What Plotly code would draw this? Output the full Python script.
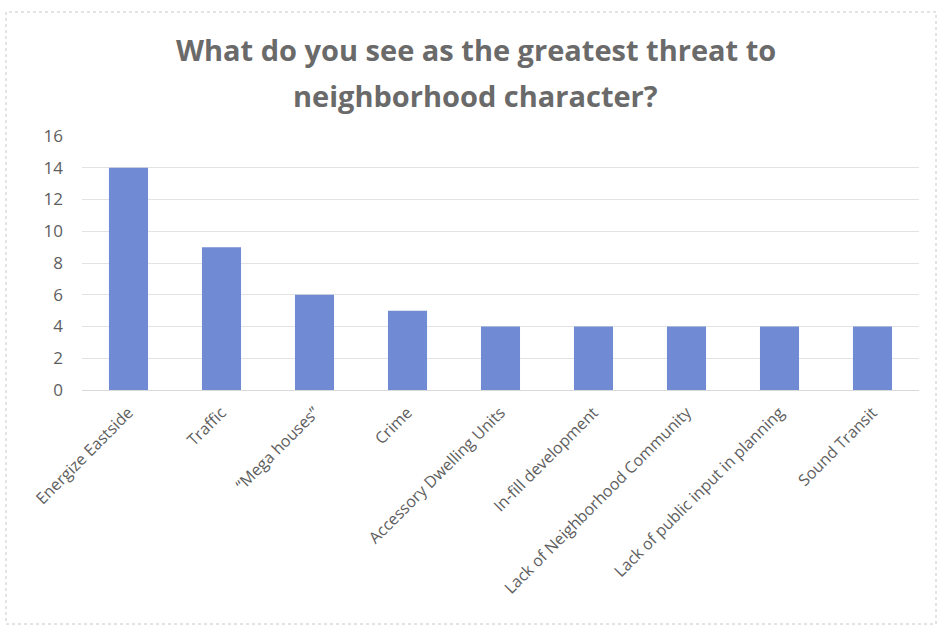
import plotly.graph_objects as go

# Survey responses: greatest threat to neighborhood character
categories = [
    "Energize Eastside",
    "Traffic",
    "\u201cMega houses\u201d",
    "Crime",
    "Accessory Dwelling Units",
    "In-fill development",
    "Lack of Neighborhood Community",
    "Lack of public input in planning",
    "Sound Transit",
]
counts = [14, 9, 6, 5, 4, 4, 4, 4, 4]
y_ticks = [0, 2, 4, 6, 8, 10, 12, 14, 16]

title_lines = ["What do you see as the greatest threat to", "neighborhood character?"]

W, H = 943, 629
L, R, T, B = 82, 24, 136, 239

BAR = "#708bd4"
TEXT = "#5e5e5e"
FONT = "Open Sans, Liberation Sans, sans-serif"

fig = go.Figure(
    go.Bar(
        x=categories,
        y=counts,
        marker=dict(color=BAR, line=dict(width=0)),
        width=0.42,
        hoverinfo="x+y",
    )
)

pw, ph = W - L - R, H - T - B


def px_to_paper(x, y):
    return (x - L) / pw, (H - B - y) / ph


x0, y0 = px_to_paper(6, 12)
x1, y1 = px_to_paper(936, 624)
fig.add_shape(
    type="rect", xref="paper", yref="paper",
    x0=x0, x1=x1, y0=y1, y1=y0,
    line=dict(color="#c8c8c8", width=1, dash="dot"),
    layer="below",
)

for text, ypx in zip(title_lines, [50, 95]):
    fx, fy = px_to_paper(W / 2 + 4, ypx)
    fig.add_annotation(
        text=f"<b>{text}</b>", xref="paper", yref="paper",
        x=fx, y=fy, xanchor="center", yanchor="middle", showarrow=False,
        font=dict(family=FONT, size=29, color="#6a6a6a"),
    )

fig.update_layout(
    width=W, height=H,
    margin=dict(l=L, r=R, t=T, b=B),
    paper_bgcolor="white", plot_bgcolor="white",
    showlegend=False,
    font=dict(family=FONT, color=TEXT),
    xaxis=dict(
        tickangle=-45, tickfont=dict(size=16, color=TEXT),
        showgrid=False, showline=True, linecolor="#d9d9d9",
        ticks="", ticklabelstandoff=6,
    ),
    yaxis=dict(
        range=[0, 16], tickvals=y_ticks,
        tickfont=dict(size=17, color=TEXT),
        showgrid=True, gridcolor="#e3e3e3", gridwidth=1,
        zeroline=False, showline=False, ticks="",
        ticklabelstandoff=18,
    ),
)

fig.write_html("out.html")
